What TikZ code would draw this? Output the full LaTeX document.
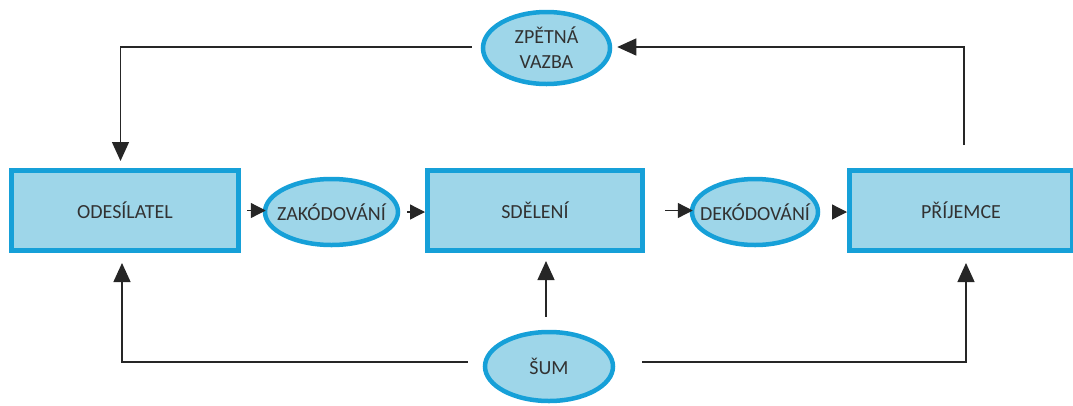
\documentclass[tikz,border=0pt]{standalone}
\usepackage{fontspec}
\setmainfont{Carlito}
\usetikzlibrary{arrows.meta,shapes.geometric}
\definecolor{bord}{RGB}{22,160,216}
\definecolor{fillc}{RGB}{158,214,233}
\definecolor{txt}{RGB}{50,50,50}
\begin{document}
\begin{tikzpicture}[x=1pt,y=-1pt,
  every node/.style={text=txt, font=\fontsize{20}{25}\selectfont},
  boxn/.style={rectangle, draw=bord, fill=fillc, line width=5pt, minimum height=80pt},
  ell/.style={ellipse, draw=bord, fill=fillc, line width=4.5pt, inner sep=0pt, align=center},
  conn/.style={draw=black!85, line width=1.3pt},
  big/.style={conn, -{Triangle[length=19pt,width=17pt]}},
  small/.style={conn, -{Triangle[length=15pt,width=15pt]}}]
\useasboundingbox (0,0) rectangle (1073,405);
\node[boxn, minimum width=227pt] (odes) at (125,210.5) {ODESÍLATEL};
\node[boxn, minimum width=215pt] (sdel) at (535,210.5) {SDĚLENÍ};
\node[boxn, minimum width=223pt] (prij) at (961,210.5) {PŘÍJEMCE};
\node[ell, minimum width=133pt, minimum height=66pt] (zak) at (331.5,212) {\makebox[0pt]{ZAKÓDOVÁNÍ}};
\node[ell, minimum width=126pt, minimum height=66pt] (dek) at (755,212) {\makebox[0pt]{DEKÓDOVÁNÍ}};
\node[ell, minimum width=127pt, minimum height=72pt] (zv) at (546.5,48) {\makebox[0pt]{ZPĚTNÁ}\\\makebox[0pt]{VAZBA}};
\node[ell, minimum width=128pt, minimum height=69pt] (sum) at (549,366.5) {\makebox[0pt]{ŠUM}};
% horizontal flow
\draw[small, shorten <=6pt, shorten >=-3pt] (odes.east) -- (odes.east -| zak.west);
\draw[small, shorten <=7pt] (zak.east) -- (zak.east -| sdel.west);
\draw[small, shorten <=20pt, shorten >=-3pt] (sdel.east) -- (sdel.east -| dek.west);
\draw[small, shorten <=12pt] (dek.east) -- (dek.east -| prij.west);
% feedback
\draw[big, shorten >=5pt] ([xshift=3pt,yshift=23pt]prij.north) |- ([yshift=1pt]zv.east);
\draw[big, shorten <=9pt, shorten >=7pt] ([yshift=1pt]zv.west) -| ([xshift=-4.5pt]odes.north);
% noise
\draw[big, shorten <=15pt, shorten >=10pt] ([yshift=4.5pt]sum.west) -| ([xshift=-3pt]odes.south);
\draw[big, shorten <=27pt, shorten >=10pt] ([yshift=4.5pt]sum.east) -| ([xshift=5pt]prij.south);
\draw[big, shorten <=13pt, shorten >=8pt] ([xshift=-3pt]sum.north) -- ([xshift=-3pt]sum.north |- sdel.south);
\end{tikzpicture}
\end{document}
